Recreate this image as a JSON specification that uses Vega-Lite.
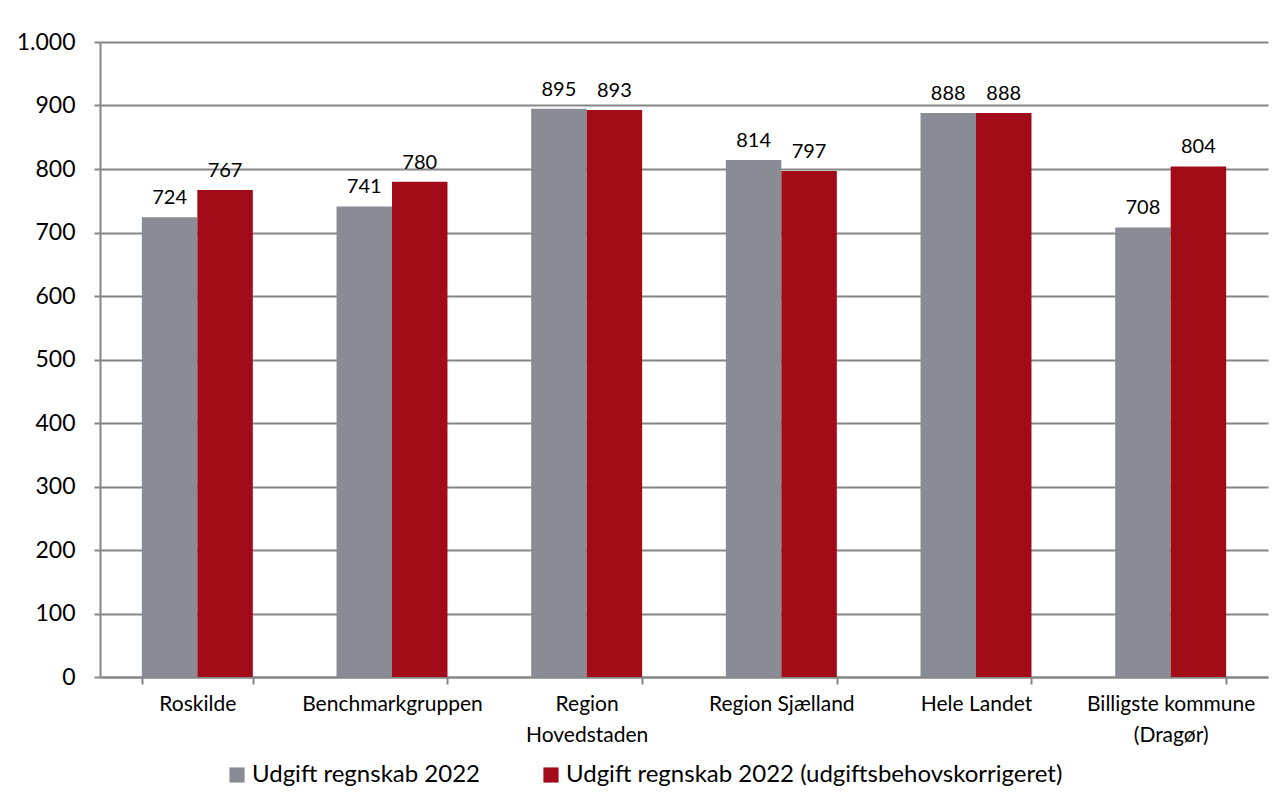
{
  "$schema": "https://vega.github.io/schema/vega-lite/v6.json",
  "width": 1168,
  "height": 635,
  "autosize": {"type": "none"},
  "padding": {"left": 100, "top": 42, "right": 15, "bottom": 132},
  "background": "white",
  "config": {
    "font": "Lato",
    "view": {"stroke": null}
  },
  "data": {
    "values": [
      {"omr": "Roskilde", "serie": "Udgift regnskab 2022", "v": 724},
      {"omr": "Roskilde", "serie": "Udgift regnskab 2022 (udgiftsbehovskorrigeret)", "v": 767},
      {"omr": "Benchmarkgruppen", "serie": "Udgift regnskab 2022", "v": 741},
      {"omr": "Benchmarkgruppen", "serie": "Udgift regnskab 2022 (udgiftsbehovskorrigeret)", "v": 780},
      {"omr": "Region Hovedstaden", "serie": "Udgift regnskab 2022", "v": 895},
      {"omr": "Region Hovedstaden", "serie": "Udgift regnskab 2022 (udgiftsbehovskorrigeret)", "v": 893},
      {"omr": "Region Sjælland", "serie": "Udgift regnskab 2022", "v": 814},
      {"omr": "Region Sjælland", "serie": "Udgift regnskab 2022 (udgiftsbehovskorrigeret)", "v": 797},
      {"omr": "Hele Landet", "serie": "Udgift regnskab 2022", "v": 888},
      {"omr": "Hele Landet", "serie": "Udgift regnskab 2022 (udgiftsbehovskorrigeret)", "v": 888},
      {"omr": "Billigste kommune (Dragør)", "serie": "Udgift regnskab 2022", "v": 708},
      {"omr": "Billigste kommune (Dragør)", "serie": "Udgift regnskab 2022 (udgiftsbehovskorrigeret)", "v": 804}
    ]
  },
  "encoding": {
    "x": {
      "field": "omr",
      "type": "nominal",
      "sort": null,
      "scale": {"paddingInner": 0.43, "paddingOuter": 0.215},
      "axis": {
        "title": null,
        "labelAngle": 0,
        "labelFontSize": 21,
        "labelColor": "#000000",
        "labelPadding": 9,
        "labelLineHeight": 31,
        "labelBaseline": "top",
        "labelLimit": 400,
        "labelExpr": "datum.value == 'Region Hovedstaden' ? ['Region', 'Hovedstaden'] : datum.value == 'Billigste kommune (Dragør)' ? ['Billigste kommune', '(Dragør)'] : datum.value",
        "domainColor": "#868686",
        "domainWidth": 2,
        "tickColor": "#868686",
        "tickWidth": 2,
        "tickSize": 7,
        "tickBand": "extent",
        "grid": false
      }
    },
    "xOffset": {"field": "serie", "type": "nominal", "scale": {"paddingInner": 0, "paddingOuter": 0}},
    "y": {
      "field": "v",
      "type": "quantitative",
      "scale": {"domain": [0, 1000], "nice": false},
      "axis": {
        "title": null,
        "values": [0, 100, 200, 300, 400, 500, 600, 700, 800, 900, 1000],
        "labelOverlap": false,
        "labelExpr": "datum.value == 1000 ? '1.000' : datum.label",
        "labelFontSize": 23,
        "labelColor": "#000000",
        "labelPadding": 19,
        "domainColor": "#868686",
        "domainWidth": 2,
        "tickColor": "#868686",
        "tickWidth": 2,
        "tickSize": 6,
        "gridColor": "#868686",
        "gridWidth": 2
      }
    }
  },
  "layer": [
    {
      "mark": {"type": "bar"},
      "encoding": {
        "color": {
          "field": "serie",
          "type": "nominal",
          "scale": {"range": ["#898C95", "#A10C18"]},
          "legend": {
            "title": null,
            "orient": "none",
            "legendX": 125,
            "legendY": 721,
            "direction": "horizontal",
            "columns": 2,
            "columnPadding": 58,
            "symbolType": "square",
            "symbolSize": 230,
            "symbolStrokeWidth": 0,
            "symbolOpacity": 1,
            "labelFontSize": 24,
            "labelColor": "#000000",
            "labelOffset": 3,
            "labelLimit": 700
          }
        }
      }
    },
    {
      "mark": {"type": "text", "baseline": "bottom", "dy": -9, "fontSize": 20, "color": "#000000"},
      "encoding": {"text": {"field": "v", "type": "quantitative"}}
    }
  ]
}
